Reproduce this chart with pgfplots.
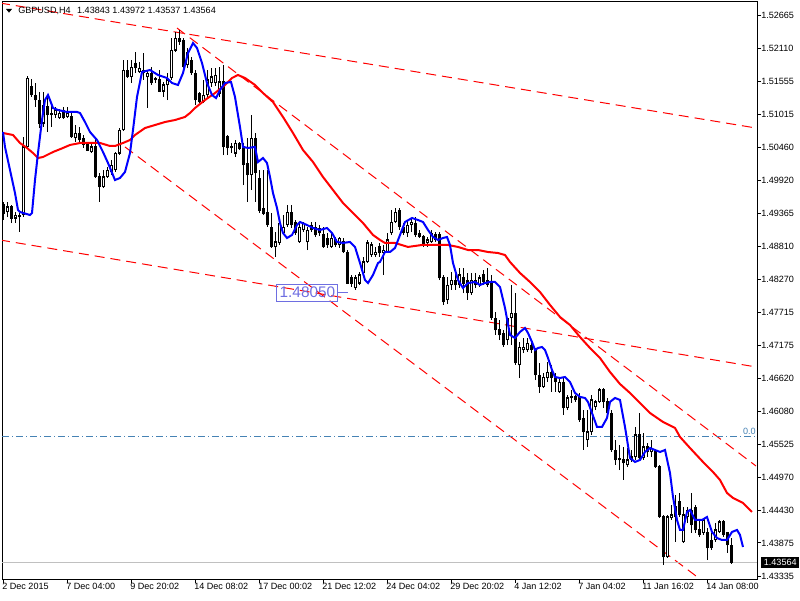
\documentclass[border=0pt]{standalone}
\usepackage{pgfplots}
\pgfplotsset{compat=1.18}
\usepackage{pgfplotstable}
\usepackage{fontspec}
\setmainfont{Liberation Sans}
\definecolor{maBlue}{RGB}{0,0,255}
\definecolor{maRed}{RGB}{255,0,0}
\definecolor{fibBlue}{RGB}{70,130,180}
\definecolor{lblBlue}{RGB}{110,110,225}
\definecolor{bidGray}{RGB}{192,192,192}
\newcommand{\mtfont}{\fontsize{6.8}{8}\selectfont}

\pgfplotstableread{
i o h l c
0 1.49506 1.49556 1.49256 1.49372
1 1.49389 1.49556 1.49306 1.49473
2 1.49473 1.49506 1.49206 1.49289
3 1.49289 1.49389 1.49206 1.49339
4 1.49339 1.49372 1.49057 1.49306
5 1.49339 1.50637 1.49306 1.50471
6 1.50471 1.51651 1.50454 1.51618
7 1.51469 1.51601 1.51302 1.51335
8 1.51335 1.51535 1.51136 1.51252
9 1.51252 1.51385 1.50786 1.50869
10 1.50869 1.51385 1.50803 1.51169
11 1.51152 1.51302 1.50720 1.51003
12 1.51036 1.51202 1.50803 1.51003
13 1.51003 1.51136 1.50953 1.51086
14 1.50953 1.51102 1.50936 1.51036
15 1.51086 1.51136 1.50936 1.50953
16 1.50970 1.51136 1.50953 1.51036
17 1.50970 1.51036 1.50620 1.50637
18 1.50620 1.50836 1.50554 1.50703
19 1.50703 1.50803 1.50554 1.50587
20 1.50620 1.50670 1.50454 1.50504
21 1.50504 1.50537 1.50403 1.50420
22 1.50387 1.50537 1.50370 1.50471
23 1.50471 1.50637 1.49955 1.49972
24 1.49972 1.50038 1.49556 1.49805
25 1.49805 1.50088 1.49788 1.49972
26 1.49972 1.50138 1.49955 1.50088
27 1.50055 1.50254 1.50005 1.50171
28 1.50088 1.50387 1.50055 1.50370
29 1.50370 1.50786 1.50337 1.50753
30 1.50753 1.51917 1.50736 1.51751
31 1.51751 1.51917 1.51618 1.51635
32 1.51635 1.51917 1.51535 1.51801
33 1.51867 1.52050 1.51701 1.51784
34 1.51718 1.51884 1.51701 1.51784
35 1.51751 1.52033 1.51585 1.51701
36 1.51635 1.51751 1.51119 1.51701
37 1.51701 1.51801 1.51502 1.51535
38 1.51585 1.51635 1.51535 1.51618
39 1.51601 1.51751 1.51385 1.51401
40 1.51401 1.51552 1.51302 1.51502
41 1.51502 1.51701 1.51252 1.51585
42 1.51618 1.52283 1.51585 1.52083
43 1.52083 1.52383 1.52050 1.52283
44 1.52283 1.52416 1.52167 1.52217
45 1.52250 1.52283 1.51784 1.51801
46 1.51834 1.52117 1.51784 1.52050
47 1.51917 1.51967 1.51668 1.51701
48 1.51701 1.51751 1.51169 1.51252
49 1.51368 1.51385 1.51202 1.51219
50 1.51219 1.51585 1.51202 1.51335
51 1.51335 1.51751 1.51302 1.51585
52 1.51535 1.51784 1.51469 1.51635
53 1.51535 1.51784 1.51485 1.51668
54 1.51368 1.51801 1.51302 1.51552
55 1.51552 1.51834 1.50337 1.50471
56 1.50637 1.50670 1.50337 1.50454
57 1.50454 1.50537 1.50370 1.50471
58 1.50370 1.50587 1.50304 1.50537
59 1.50537 1.50554 1.50420 1.50437
60 1.50471 1.50537 1.49838 1.50171
61 1.50204 1.50620 1.49556 1.50005
62 1.50005 1.51003 1.49755 1.50620
63 1.50620 1.50703 1.49556 1.50038
64 1.49955 1.50088 1.49372 1.49422
65 1.49456 1.50088 1.49339 1.49372
66 1.49389 1.50088 1.49140 1.49173
67 1.49140 1.49372 1.48791 1.48808
68 1.48808 1.49057 1.48641 1.48891
69 1.48874 1.49306 1.48841 1.49206
70 1.49040 1.49339 1.49007 1.49140
71 1.49173 1.49506 1.49140 1.49389
72 1.49389 1.49506 1.49123 1.49173
73 1.49223 1.49256 1.49007 1.49040
74 1.48891 1.49223 1.48874 1.49140
75 1.49090 1.49223 1.49057 1.49206
76 1.48891 1.49140 1.48757 1.49090
77 1.49173 1.49223 1.49057 1.49090
78 1.49140 1.49223 1.48974 1.49007
79 1.49123 1.49173 1.48990 1.49040
80 1.49007 1.49140 1.48791 1.48808
81 1.48957 1.49040 1.48791 1.48841
82 1.48808 1.49040 1.48791 1.48957
83 1.48924 1.48974 1.48808 1.48841
84 1.48841 1.48974 1.48791 1.48957
85 1.48891 1.48957 1.48707 1.48724
86 1.48724 1.48757 1.48191 1.48208
87 1.48292 1.48342 1.48142 1.48208
88 1.48125 1.48342 1.48092 1.48292
89 1.48208 1.48392 1.48175 1.48342
90 1.48375 1.48641 1.48342 1.48558
91 1.48558 1.48924 1.48541 1.48874
92 1.48674 1.48891 1.48641 1.48841
93 1.48674 1.48808 1.48641 1.48724
94 1.48808 1.48874 1.48641 1.48707
95 1.48707 1.48841 1.48342 1.48757
96 1.48724 1.49040 1.48707 1.48924
97 1.49040 1.49422 1.49007 1.49223
98 1.49223 1.49456 1.49206 1.49389
99 1.49422 1.49456 1.49090 1.49140
100 1.49140 1.49206 1.49007 1.49040
101 1.49040 1.49256 1.48974 1.49173
102 1.49173 1.49289 1.49057 1.49223
103 1.49206 1.49306 1.48974 1.49007
104 1.49040 1.49090 1.48957 1.48974
105 1.48974 1.49007 1.48808 1.48841
106 1.48874 1.48974 1.48808 1.48924
107 1.48891 1.49090 1.48874 1.49040
108 1.49007 1.49057 1.48891 1.48924
109 1.49007 1.49057 1.48258 1.48292
110 1.48292 1.48342 1.47843 1.47893
111 1.47926 1.48309 1.47859 1.48175
112 1.48175 1.48392 1.48092 1.48258
113 1.48258 1.48425 1.48092 1.48175
114 1.48175 1.48458 1.48125 1.48342
115 1.48292 1.48458 1.48042 1.48208
116 1.48258 1.48375 1.47926 1.48042
117 1.48042 1.48375 1.48009 1.48258
118 1.48258 1.48375 1.48125 1.48175
119 1.48175 1.48342 1.48142 1.48292
120 1.48342 1.48425 1.48175 1.48225
121 1.48258 1.48458 1.48142 1.48175
122 1.48208 1.48342 1.47593 1.47626
123 1.47626 1.47726 1.47344 1.47427
124 1.47427 1.47593 1.47260 1.47344
125 1.47377 1.47427 1.47144 1.47177
126 1.47260 1.47427 1.47177 1.47626
127 1.47626 1.48175 1.47177 1.47709
128 1.47709 1.48042 1.46845 1.46878
129 1.46845 1.47227 1.46628 1.47144
130 1.47094 1.47294 1.47044 1.47144
131 1.47094 1.47294 1.47061 1.47210
132 1.47177 1.47260 1.47044 1.47094
133 1.47094 1.47127 1.46595 1.46678
134 1.46678 1.46878 1.46379 1.46479
135 1.46479 1.46711 1.46462 1.46645
136 1.46628 1.46895 1.46562 1.46728
137 1.46728 1.46845 1.46396 1.46628
138 1.46645 1.46711 1.46396 1.46562
139 1.46396 1.46628 1.46379 1.46562
140 1.46562 1.46628 1.46013 1.46130
141 1.46130 1.46346 1.46096 1.46296
142 1.46296 1.46429 1.46213 1.46313
143 1.46313 1.46346 1.46230 1.46263
144 1.46313 1.46379 1.45897 1.45930
145 1.45963 1.46096 1.45431 1.45731
146 1.45597 1.46096 1.45481 1.45731
147 1.45731 1.46346 1.45681 1.46263
148 1.46147 1.46263 1.46096 1.46230
149 1.46230 1.46462 1.46213 1.46429
150 1.46429 1.46462 1.46130 1.46230
151 1.46230 1.46296 1.45963 1.46046
152 1.46046 1.46096 1.45398 1.45431
153 1.45431 1.45597 1.45182 1.45265
154 1.45265 1.45514 1.45098 1.45298
155 1.45265 1.45481 1.44932 1.45215
156 1.45182 1.45464 1.45149 1.45265
157 1.45265 1.45431 1.45232 1.45315
158 1.45315 1.45814 1.45265 1.45681
159 1.45681 1.46046 1.45265 1.45298
160 1.45298 1.45714 1.45265 1.45481
161 1.45481 1.45547 1.45315 1.45398
162 1.45398 1.45597 1.45315 1.45464
163 1.45398 1.45431 1.45132 1.45149
164 1.45149 1.45182 1.44300 1.44317
165 1.44317 1.44350 1.43519 1.43652
166 1.43652 1.44350 1.43635 1.44317
167 1.44300 1.44517 1.44267 1.44350
168 1.44484 1.44683 1.43901 1.44317
169 1.44567 1.44716 1.44317 1.44350
170 1.43901 1.44484 1.43884 1.44350
171 1.44317 1.44484 1.44217 1.44433
172 1.44433 1.44716 1.44051 1.44184
173 1.44467 1.44517 1.44051 1.44101
174 1.44101 1.44267 1.43985 1.44018
175 1.44051 1.44151 1.44018 1.44267
176 1.44051 1.44134 1.43602 1.43801
177 1.43934 1.44051 1.43768 1.43801
178 1.43934 1.44217 1.43901 1.44101
179 1.44068 1.44267 1.44051 1.44234
180 1.44234 1.44267 1.43985 1.44018
181 1.44051 1.44068 1.43718 1.43851
182 1.43843 1.43972 1.43537 1.43564
}\candles

\begin{document}
\begin{tikzpicture}
\begin{axis}[
  scale only axis, width=566.25pt, height=432.75pt,
  xmin=-0.25, xmax=188.5, ymin=1.43285, ymax=1.52882,
  axis line style={black, line width=0.75pt},
  tick align=outside, major tick length=3pt,
  tick style={black, line width=0.75pt},
  xtick pos=left, ytick pos=right, yticklabel pos=right,
  xtick={0,16,...,176},
  xticklabels={2 Dec 2015,7 Dec 04:00,9 Dec 20:02,14 Dec 08:02,17 Dec 00:02,21 Dec 12:02,24 Dec 04:02,29 Dec 20:02,4 Jan 12:02,7 Jan 04:02,11 Jan 16:02,14 Jan 08:00},
  ytick={1.43335,1.43884,1.44432,1.44981,1.45530,1.46079,1.46628,1.47177,1.47725,1.48274,1.48823,1.49372,1.49921,1.50470,1.51019,1.51567,1.52116,1.52665},
  yticklabels={1.43335,1.43875,1.44430,1.44970,1.45525,1.46080,1.46620,1.47175,1.47715,1.48270,1.48810,1.49365,1.49920,1.50460,1.51015,1.51555,1.52110,1.52665},
  tick label style={font=\mtfont, text=black},
  xticklabel style={anchor=north west, inner sep=0pt, xshift=-0.75pt},
  yticklabel style={anchor=west, inner sep=0pt},
  clip mode=individual,
]
% channel lines
\addplot[maRed, line width=0.75pt, dash pattern=on 7.5pt off 4.5pt] coordinates {(-0.75,1.52865) (188.25,1.50786)};
\addplot[maRed, line width=0.75pt, dash pattern=on 7.5pt off 4.5pt] coordinates {(-0.75,1.48924) (188.25,1.46812)};
\addplot[maRed, line width=0.75pt, dash pattern=on 7.5pt off 4.5pt] coordinates {(43.5,1.52449) (188.25,1.45165)};
\addplot[maRed, line width=0.75pt, dash pattern=on 7.5pt off 4.5pt] coordinates {(30.5,1.50471) (174.25,1.43285)};
% fibo level and bid line
\addplot[fibBlue, line width=0.75pt, dash pattern=on 5.25pt off 2.25pt on 0.75pt off 2.25pt] coordinates {(-0.25,1.45660) (188.5,1.45660)};
\addplot[bidGray, line width=0.75pt] coordinates {(-0.25,1.43564) (188.5,1.43564)};
% candles: wicks
\addplot[draw=none, mark=none, error bars/.cd, y dir=plus, y explicit, error mark=none,
  error bar style={draw=black, line width=0.75pt}]
  table[x=i, y=l, y error plus expr=\thisrow{h}-\thisrow{l}] {\candles};
% candle bodies
\addplot[draw=none, mark=none, error bars/.cd, y dir=plus, y explicit, error mark=none,
  error bar style={draw=black, line width=2.25pt}]
  table[x=i, y expr={min(\thisrow{o},\thisrow{c})-0.00008}, y error plus expr={abs(\thisrow{c}-\thisrow{o})+0.00016}] {\candles};
% white interior of rising candles
\addplot[draw=none, mark=none, error bars/.cd, y dir=plus, y explicit, error mark=none,
  error bar style={draw=white, line width=0.75pt}]
  table[x=i, y expr={\thisrow{o}+0.00017}, y error plus expr={max(\thisrow{c}-\thisrow{o}-0.00034,0)}] {\candles};
% moving averages
\addplot[maRed, line width=1.5pt] coordinates {
(0,1.50703) (2.5,1.50670) (4.25,1.50537) (6,1.50454) (7.5,1.50370) (8.75,1.50287) (10,1.50304) (12.5,1.50387) (15,1.50454) (16.75,1.50504) (19.25,1.50537) (24.25,1.50537) (26.75,1.50487) (28,1.50487) (30,1.50537) (31.75,1.50587) (33,1.50670) (35.5,1.50786) (38,1.50836) (40.5,1.50886) (43,1.50919) (45.5,1.50970) (46.75,1.51036) (48,1.51119) (50.5,1.51252) (53,1.51368) (55.5,1.51502) (57.25,1.51618) (58.75,1.51668) (60.5,1.51618) (63,1.51502) (65,1.51368) (67.5,1.51219) (70,1.50970) (72.5,1.50703) (75,1.50420) (77.5,1.50221) (80,1.49972) (82.5,1.49755) (85,1.49539) (87.5,1.49372) (90,1.49206) (92.5,1.49007) (94.25,1.48924) (95.5,1.48874) (98,1.48874) (101.25,1.48808) (104.75,1.48841) (108,1.48841) (111.25,1.48841) (113.75,1.48808) (116.25,1.48757) (118.75,1.48757) (121.25,1.48724) (123.75,1.48707) (125.5,1.48674) (126.75,1.48558) (129.25,1.48375) (131.75,1.48225) (134.25,1.48059) (136.75,1.47843) (139.25,1.47643) (141.75,1.47510) (144.25,1.47310) (146.75,1.47127) (149.25,1.46961) (151.75,1.46728) (154.25,1.46528) (156.75,1.46379) (161.75,1.46046) (165,1.45897) (168,1.45797) (169.25,1.45648) (171.75,1.45464) (175,1.45232) (177.5,1.45065) (179.25,1.44932) (181,1.44716) (182.5,1.44633) (185,1.44550) (187.25,1.44400)};
\addplot[maBlue, line width=1.5pt] coordinates {
(0,1.50720) (0.5,1.50471) (1.75,1.50088) (3,1.49705) (3.75,1.49422) (4.25,1.49389) (6.75,1.49339) (7.25,1.49372) (7.5,1.49556) (8,1.49921) (8.75,1.50370) (9.75,1.50919) (10.5,1.51252) (11.25,1.51335) (11.75,1.51252) (12.5,1.51119) (13.75,1.51086) (16,1.51053) (18.5,1.51053) (19.25,1.51036) (20.5,1.50886) (21.75,1.50720) (23.5,1.50587) (25,1.50387) (26.25,1.50204) (28,1.49921) (29.25,1.49955) (30.5,1.50055) (31.75,1.50370) (32.5,1.50753) (33.5,1.51302) (34.75,1.51718) (36.75,1.51751) (38.75,1.51668) (41,1.51618) (42.25,1.51535) (43.75,1.51502) (45,1.51701) (46.25,1.52033) (47.5,1.52200) (48.5,1.52117) (49.75,1.51867) (51,1.51535) (52.25,1.51335) (53.25,1.51285) (54.25,1.51418) (55.5,1.51535) (57,1.51552) (58,1.51302) (59.25,1.50803) (60,1.50471) (61.25,1.50454) (63,1.50471) (63.75,1.50221) (65,1.50287) (66,1.50204) (66.75,1.49972) (67.5,1.49705) (68.5,1.49456) (69.25,1.49206) (70,1.49040) (71,1.48957) (72.25,1.49007) (73.5,1.49173) (74.25,1.49223) (76,1.49173) (77.5,1.49123) (79.25,1.49090) (81,1.49123) (82.25,1.49040) (83.5,1.48891) (85,1.48874) (86.75,1.48891) (88,1.48808) (89.25,1.48541) (90.5,1.48258) (91.25,1.48208) (92.5,1.48342) (93.75,1.48541) (94.25,1.48558) (95.5,1.48724) (96.75,1.48724) (98,1.48791) (99.25,1.49007) (100.5,1.49223) (102.25,1.49289) (103.75,1.49256) (105,1.49223) (106.25,1.49090) (107.5,1.48974) (108.75,1.48924) (110,1.48957) (111,1.48974) (111.75,1.48841) (112.5,1.48541) (113.75,1.48258) (115,1.48125) (116.25,1.48208) (118,1.48225) (119.25,1.48175) (120.5,1.48208) (121.75,1.48225) (123,1.48225) (124.25,1.48142) (125.5,1.47793) (126.75,1.47344) (128,1.47294) (129.25,1.47394) (130.5,1.47460) (131.25,1.47377) (132.25,1.47227) (133,1.47094) (133.75,1.47127) (134.75,1.47144) (135.5,1.47094) (136.25,1.46961) (137.25,1.46761) (138,1.46645) (139.25,1.46628) (140.5,1.46645) (141.75,1.46562) (143,1.46379) (144.25,1.46313) (145.5,1.46296) (146.25,1.46230) (147.25,1.46046) (148.5,1.45814) (149.75,1.45814) (151,1.45963) (151.75,1.46230) (153,1.46296) (154.25,1.46263) (155.5,1.45814) (156.75,1.45298) (158,1.45232) (159.25,1.45265) (160.5,1.45398) (161.75,1.45464) (163,1.45431) (164.25,1.45398) (165.5,1.45431) (166.75,1.45048) (167.5,1.44650) (168.5,1.44267) (169.25,1.44101) (170,1.44101) (171,1.44400) (171.75,1.44433) (173,1.44267) (174.75,1.44267) (176,1.44317) (177.25,1.44068) (178.5,1.43967) (179.75,1.43934) (181,1.43934) (182.25,1.44068) (183.5,1.44101) (184.25,1.44018) (185,1.43818)};
% annotations
\node[draw=lblBlue, line width=0.75pt, text=lblBlue, font=\fontsize{11.5}{12}\selectfont, inner sep=0pt, minimum width=45.75pt, minimum height=12.75pt] at (axis cs:76.1,1.48050) {1.48050};
\draw[lblBlue, line width=0.75pt] (axis cs:83.75,1.48050) -- (axis cs:86.25,1.48050);
\node[anchor=south east, text=fibBlue, font=\mtfont, inner sep=0.75pt] at (axis cs:188.5,1.45660) {0.0};
\node[anchor=west, fill=black, text=white, font=\mtfont, inner sep=0pt, minimum width=28.5pt, minimum height=8.25pt, xshift=3pt] at (axis cs:188.5,1.43564) {1.43564};
\node[anchor=base west, font=\mtfont, inner sep=0pt, xshift=12pt, yshift=-8.6pt] at (rel axis cs:0,1) {GBPUSD,H4\hspace{3pt} 1.43843 1.43972 1.43537 1.43564};
\fill (rel axis cs:0,1) ++(3pt,-5.25pt) -- ++(4.5pt,0pt) -- ++(-2.25pt,-2.75pt) -- cycle;
\end{axis}
\pgfresetboundingbox
\path[use as bounding box] ([shift={(-1.5pt,-15.75pt)}]current axis.south west) rectangle ([shift={(32.25pt,1.5pt)}]current axis.north east);
\end{tikzpicture}
\end{document}
